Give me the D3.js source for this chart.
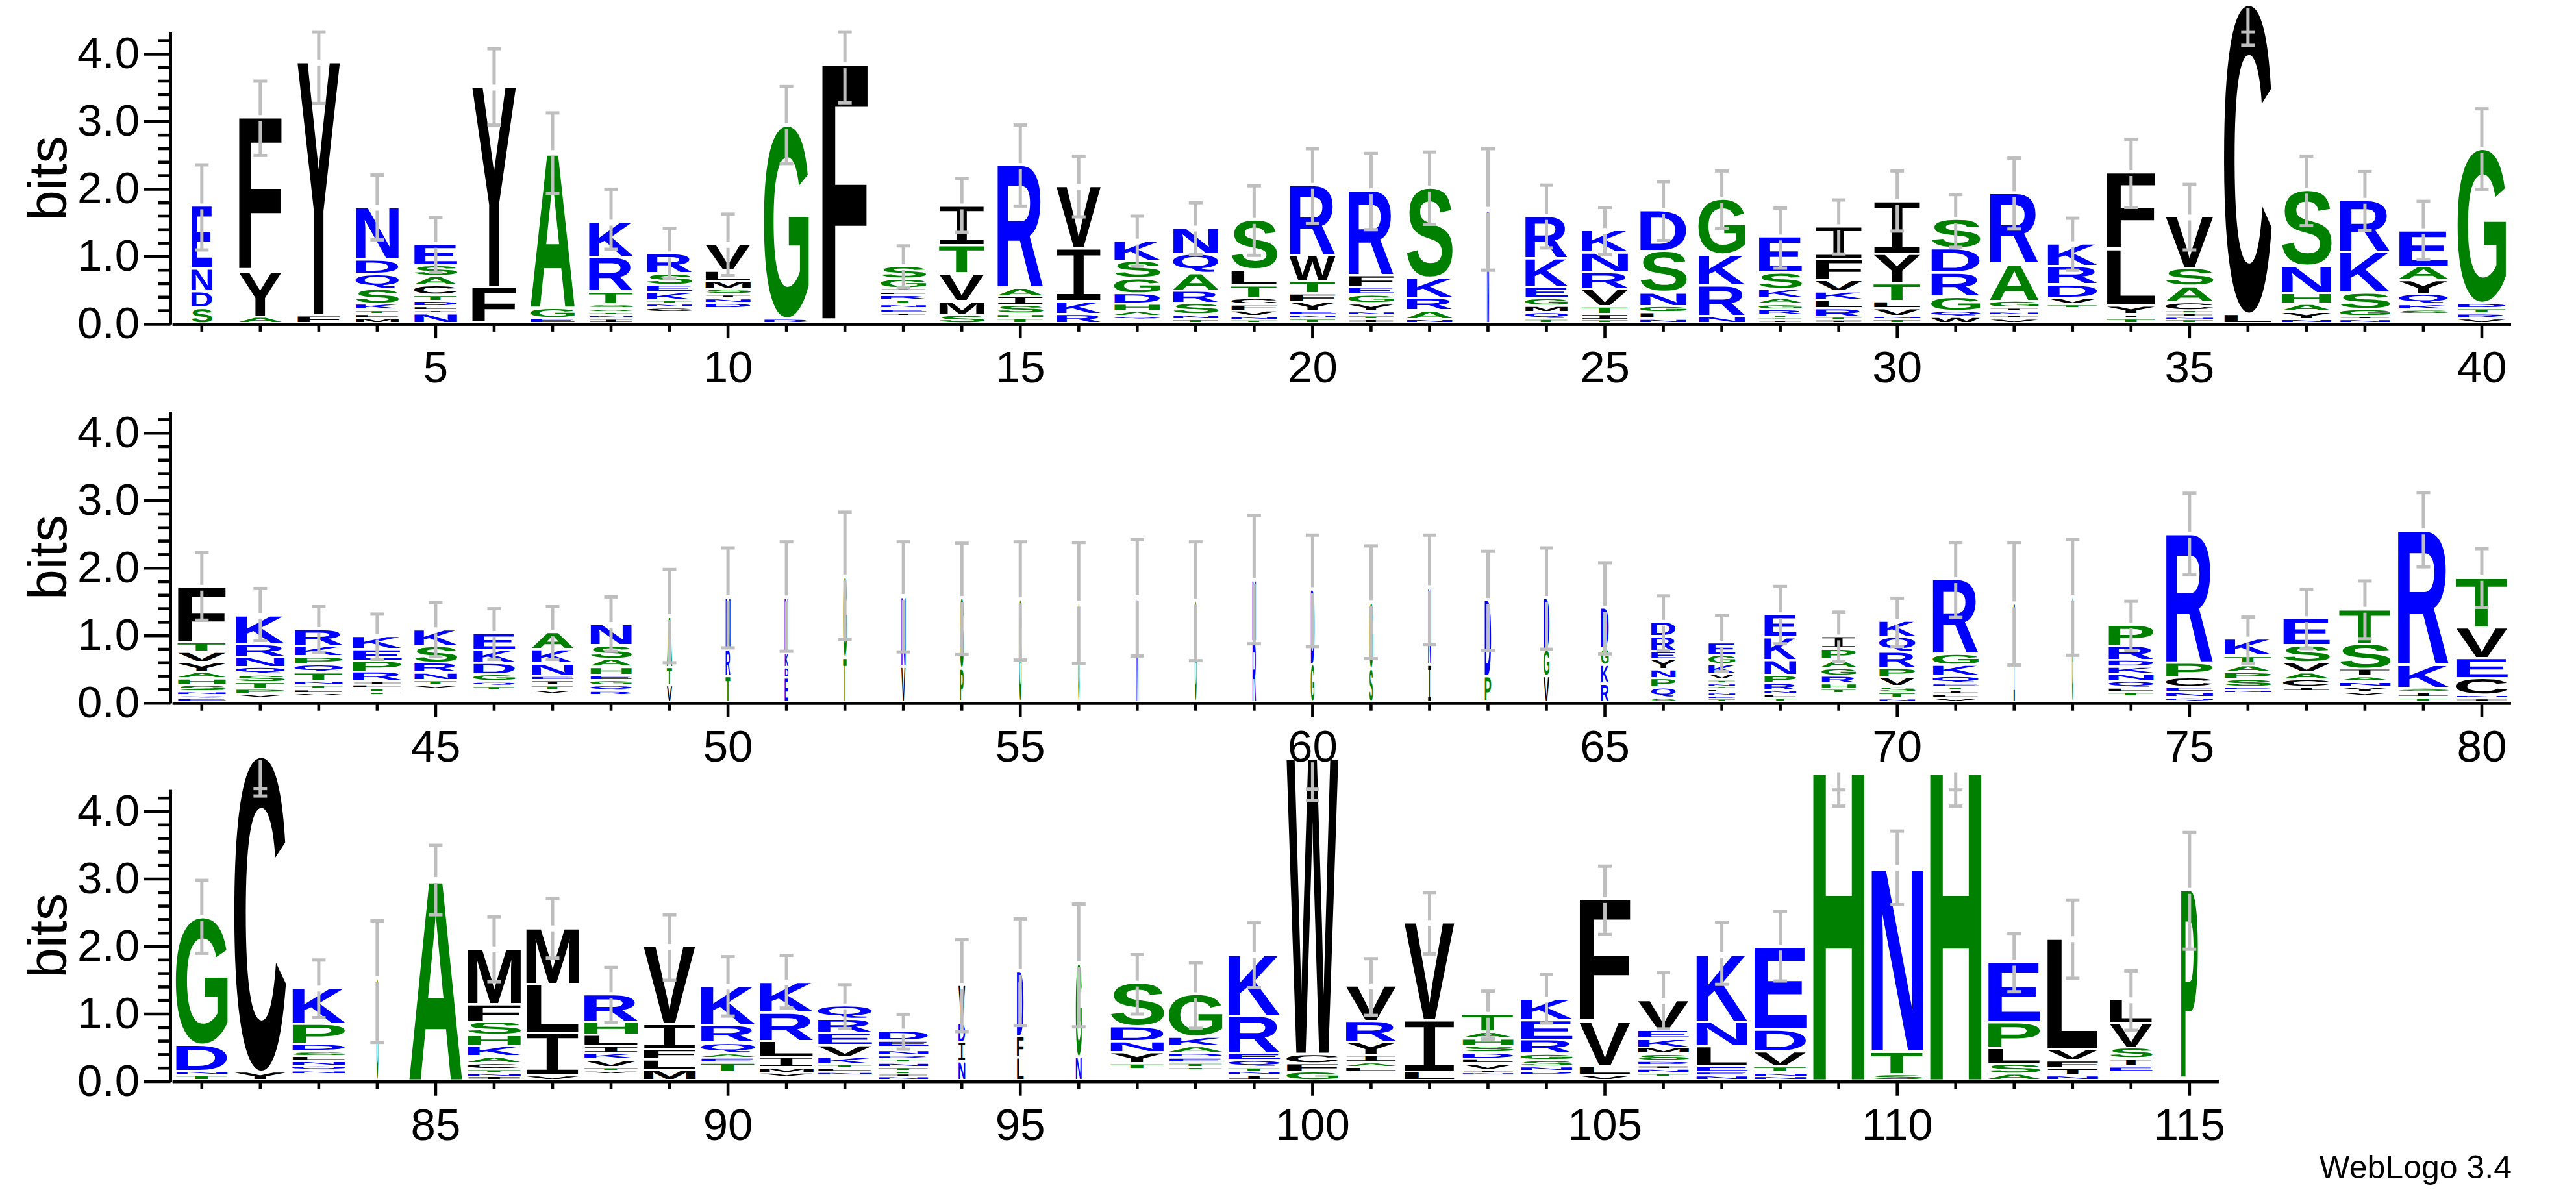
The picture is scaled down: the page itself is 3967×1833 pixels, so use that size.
<!DOCTYPE html>
<html><head><meta charset="utf-8">
<script src="https://cdnjs.cloudflare.com/ajax/libs/d3/7.8.5/d3.min.js"></script>
<style>html,body{margin:0;padding:0;background:#fff}svg{display:block}</style>
</head><body>
<svg id="c" width="3967" height="1833" xmlns="http://www.w3.org/2000/svg"></svg>
<script>
// Logo stacks, listed from the top of each stack to its bottom. A space is an empty (too small to draw) cell.
const stackLetters = [
"ENDS","FYA","YF","NDQSKTLM","ESACTDLIN","YF","AGE","KRTSATNI","RSEKTNC ","VLMSIND ",
"GR","F","SGILRTNEI ","ITVMS","RAISHT","VIKR","KSGDHAQ ","NQARSNT","SLTCFVNT","RWTFYENT",
"RFEGYNTI","SKRAN","N","RKEGMQT","KNRVTIT","DSNGLN","GKRN","ESKAGRTTI","IFVKLRTI","IYTLVNT",
"SDRGQW","RAGINIV","KRDVT ","FLYIT","VSACTINT","CL","SNHAYN","RKSGIN","EAYQKS ","GDTRV",
"FTVYAHSNQE","KRNQSTPV ","RKPQTNTLV ","KEPRILTT ","KSRNTV ","EKDGQT ","AKNEITV ","NSAHEGQR ","ATV","NRT",
"NKDE","GT","NV","SP","G","G","N","G","NR","DG",
"GS","NI","DP","DGV","DGKR","DREYNPQG","EGKVTNTLNET","EKNPRNLT","IPAGRHT ","KQRPVSTN",
"RGKQETILV","I","G","PRDKNQLT ","RPCENQ","KTAPSEN ","ESVACI ","TSIANYV ","RKSIT","TVECNI",
"GDNT","CY","KPDSLNQN ","G","A","MFSHKACTNI","MLIV","RHLIKVTV ","VIFLM","KRQAET ",
"KRLIMV ","QREVKTLN ","DETNRTNTTIN","VDIN","DFL","GN","SDNYT ","GKADETT ","KREQTNI","WCFG",
"VRYIAL ","VIL","TAHSDLVIN ","KERGSND ","FVLV","VEKMSDINT ","KNLEEN","EDVTNN","H","NTS",
"H","EPLSA","LVFIN","LVSIE ","P"
];
const stackBits = [
[.92,.34,.24,.21],[2.27,.67,.08],[3.74,.10],[.77,.21,.22,.22,.09,.06,.06,.06],[.30,.16,.14,.14,.09,.08,.06,.04,.13],[2.95,.52],[2.29,.15,.06],[.51,.51,.19,.06,.05,.05,.05,.05],[.28,.17,.11,.12,.05,.06,.07,.14],[.38,.15,.12,.08,.06,.07,.08,.20],
[2.85,.05],[3.80],[.17,.14,.05,.05,.07,.07,.06,.06,.05,.09],[.57,.42,.41,.20,.11],[1.80,.13,.13,.13,.06,.06],[.91,.78,.19,.12],[.285,.255,.224,.156,.106,.076,.057,.03],[.373,.289,.262,.182,.167,.068,.042],[.72,.236,.183,.095,.095,.084,.053,.03],[1.03,.38,.183,.122,.133,.06,.057,.05],
[1.24,.175,.118,.125,.118,.06,.057,.042],[1.32,.297,.186,.13,.042],[1.66],[.61,.426,.16,.114,.095,.103,.046],[.32,.29,.247,.255,.114,.087,.034],[.59,.61,.205,.095,.095,.046],[.81,.46,.452,.087],[.52,.243,.133,.087,.08,.08,.046,.034,.027],[.475,.308,.167,.122,.125,.133,.042,.03],[.77,.43,.266,.103,.114,.05,.042],
[.42,.357,.354,.21,.09,.076],[1.03,.55,.103,.057,.057,.046,.05],[.323,.27,.198,.1,.06,.2],[1.13,.837,.125,.06,.053],[.75,.262,.24,.118,.05,.05,.038,.038],[4.57,.12],[1.11,.407,.16,.114,.11,.042],[.75,.61,.243,.103,.05,.038],[.52,.2,.205,.156,.08,.068,.114],[2.27,.076,.076,.076,.053],
[.81,.14,.152,.148,.095,.095,.095,.057,.042,.042],[.42,.186,.152,.11,.114,.1,.076,.057,.045],[.23,.16,.12,.12,.125,.057,.065,.057,.05,.065],[.18,.17,.167,.14,.05,.053,.057,.05,.083],[.23,.25,.148,.114,.068,.05,.186],[.23,.2,.17,.1,.065,.06,.167],[.24,.21,.18,.065,.076,.068,.06,.106],[.30,.2,.12,.118,.076,.08,.083,.065,.083],[.74,.266,.235],[.76,.387,.376],
[.80,.217,.15,.35],[1.18,.65],[1.03,.51],[1.03,.48],[1.49],[1.44],[1.52],[1.47],[.90,.88],[1.09,.55],
[.97,.48],[1.13,.54],[1.116,.364],[.75,.39,.37],[.58,.247,.28,.258],[.2,.216,.125,.148,.133,.137,.152,.046],[.167,.137,.14,.09,.053,.042,.042,.05,.046,.046,.034],[.32,.34,.224,.114,.114,.053,.053,.05],[.165,.16,.125,.114,.114,.08,.068,.114],[.225,.224,.24,.133,.133,.095,.09,.034],
[1.09,.163,.163,.11,.046,.06,.053,.053,.05],[1.43],[1.53],[.3,.21,.103,.103,.106,.1,.065,.065,.065],[1.89,.224,.14,.076,.072,.057],[.24,.137,.106,.102,.114,.053,.042,.114],[.387,.25,.148,.106,.114,.065,.14],[.5,.376,.114,.076,.072,.076,.06,.076],[1.97,.345,.065,.076,.053],[.73,.455,.3,.247,.05,.038],
[1.878,.39,.06,.06],[4.66,.11],[.52,.30,.106,.07,.07,.073,.073,.057,.073],[1.48],[2.95],[.81,.26,.2,.16,.154,.1,.09,.057,.053,.04],[.82,.72,.64,.053],[.39,.2,.163,.1,.1,.11,.057,.053,.073],[1.14,.37,.158,.15,.142],[.57,.26,.154,.07,.073,.134,.11],
[.445,.42,.236,.154,.08,.065,.033],[.186,.207,.183,.17,.11,.053,.057,.053,.06],[.13,.094,.05,.08,.045,.06,.065,.06,.045,.04,.037],[.55,.285,.285,.264],[.95,.317,.32],[1.37,.333],[.63,.22,.163,.163,.085,.155],[.615,.142,.1,.065,.073,.065,.05,.134],[.9,.56,.1,.1,.065,.057,.06],[4.36,.138,.126,.114],
[.51,.31,.195,.106,.07,.07,.114],[1.44,.76,.114],[.25,.1,.106,.102,.09,.073,.09,.045,.045,.053],[.3,.29,.21,.094,.094,.07,.06,.06],[1.80,.66,.134,.06],[.43,.13,.13,.094,.1,.065,.057,.065,.053,.037],[.99,.36,.3,.08,.06,.053],[1.21,.325,.224,.09,.06,.04],[4.59],[2.72,.337,.073],
[4.59],[.88,.38,.236,.15,.08],[1.63,.163,.118,.11,.053],[.34,.36,.16,.118,.077,.114],[2.79]
];
// Share of a full position that each stack fills (the narrow ones are mostly gaps).
const stackWidths = [
.36,.74,.74,.74,.74,.76,.76,.76,.78,.78,.77,.79,.78,.78,.79,.77,.79,.78,.79,.79,.78,.79,.035,.73,.80,.80,.80,.74,.81,.81,.84,.84,.86,.84,.82,.82,.86,.86,.84,.83,
.83,.84,.83,.84,.74,.72,.72,.71,.09,.08,.06,.06,.07,.06,.04,.025,.03,.03,.06,.06,.06,.05,.11,.10,.13,.42,.46,.55,.59,.62,.79,.02,.02,.78,.81,.81,.80,.88,.88,.89,
.89,.89,.91,.03,.91,.92,.91,.93,.90,.93,.93,.93,.86,.115,.115,.10,.92,.92,.89,.89,.87,.87,.88,.89,.88,.88,.88,.90,.89,.89,.89,.90,.88,.73,.29
];
const errHigh = [
2.36,3.60,4.33,2.21,1.58,4.08,3.13,2.00,1.42,1.63,3.52,4.33,1.16,2.16,2.95,2.49,1.60,1.80,2.05,2.60,2.53,2.55,2.60,2.06,1.73,2.11,2.27,1.72,1.84,2.27,1.92,2.46,1.57,2.74,2.07,4.33,2.49,2.26,1.82,3.19,
2.23,1.70,1.43,1.32,1.49,1.40,1.43,1.575,1.98,2.30,2.39,2.83,2.39,2.37,2.39,2.38,2.42,2.39,2.78,2.49,2.33,2.49,2.25,2.30,2.08,1.59,1.305,1.73,1.35,1.556,2.38,2.38,2.425,1.51,3.11,1.275,1.69,1.81,3.12,2.29,
2.98,4.34,1.80,2.38,3.50,2.44,2.715,1.69,2.47,1.85,1.87,1.435,.996,2.10,2.41,2.63,1.88,1.76,2.35,4.33,1.82,2.80,1.34,1.59,3.19,1.61,2.36,2.52,4.32,3.71,4.32,2.195,2.69,1.64,3.69
];
const errLow = [
1.10,2.50,3.27,1.25,.77,2.95,1.94,1.11,.67,.72,2.38,3.28,.54,1.36,1.75,1.59,.86,1.03,1.02,1.49,1.40,1.48,.80,1.13,1.03,1.24,1.42,.83,1.04,1.38,1.14,1.41,.80,1.73,1.10,4.13,1.46,1.39,.96,2.00,
1.23,.93,.75,.65,.69,.65,.65,.77,.60,.82,.77,.94,.76,.72,.64,.59,.70,.63,.88,.84,.66,.87,.785,.80,.73,.78,.47,.88,.615,.84,1.27,.565,.71,.785,1.90,.59,.81,.956,2.02,1.42,
1.90,4.23,.947,.58,2.47,1.48,1.83,.88,1.50,.97,1.09,.785,.48,.74,.83,.81,1.0,.79,1.39,4.16,.98,1.89,.63,.866,2.18,.78,1.44,1.49,4.08,2.62,4.08,1.33,1.53,.76,1.96
];
const rowFirstPos = [1,41,81];
const rowLastPos = [40,80,115];
const rowZeroY = [499.4,1083.2,1666];
const yMajor = [0,1,2,3,4];
const yMinor = [.2,.4,.6,.8,1.2,1.4,1.6,1.8,2.2,2.4,2.6,2.8,3.2,3.4,3.6,3.8,4.2];
const creditText = "WebLogo 3.4";
const yLabel = "bits";

const green = new Set("AGHPST"), blue = new Set("DEKNQR");
const colorOf = c => green.has(c) ? "#008000" : blue.has(c) ? "#0000ff" : "#000000";

const pxPerPos = 90.03, pxPerBit = 104, leftX = 265.8, axisX = 262.6, lift = 3.6;
const svg = d3.select("#c");
svg.append("rect").attr("width",3967).attr("height",1833).attr("fill","#fff");

// Ink extents of every glyph, so that a letter can be stretched to exactly fill its cell.
const cv = document.createElement("canvas").getContext("2d");
const fontOf = c => c === "I" ? '"Liberation Mono"' : '"Liberation Sans"';
const weightOf = c => c === "I" ? "normal" : "bold";
const ink = {};
function inkOf(c){
  if(!ink[c]){
    cv.font = `${weightOf(c)} 100px ${fontOf(c)}`;
    const m = cv.measureText(c);
    ink[c] = {l:-m.actualBoundingBoxLeft, r:m.actualBoundingBoxRight, a:m.actualBoundingBoxAscent, d:m.actualBoundingBoxDescent};
  }
  return ink[c];
}

rowFirstPos.forEach((first,ri)=>{
  const last = rowLastPos[ri], y0 = rowZeroY[ri];
  const x = d3.scaleLinear().domain([first-.5,last+.5]).range([leftX, leftX+(last-first+1)*pxPerPos]);
  const y = d3.scaleLinear().domain([0,4.32]).range([y0, y0-4.32*pxPerBit]);
  const g = svg.append("g");

  // stacks
  const positions = d3.range(first,last+1);
  const cells = [];
  const tops = {};
  positions.forEach(p=>{
    const i = p-1, ls = stackLetters[i], hs = stackBits[i];
    const w = stackWidths[i]*pxPerPos;
    let acc = 0;
    const n = ls.length;
    for(let k=n-1;k>=0;k--){
      const h = hs[k]||0;
      cells.push({c:ls[k],p,w,b:acc,t:acc+h,isBottom:k===n-1,isTop:k===0});
      acc += h;
    }
    tops[p]=acc;
  });
  const ys = v => y(v)-lift;
  g.append("g").selectAll("text").data(cells.filter(d=>d.c!==" ")).join("text")
    .text(d=>d.c)
    .attr("font-family",d=>fontOf(d.c).replace(/"/g,"")).attr("font-weight",d=>weightOf(d.c))
    .attr("font-size",100).attr("fill",d=>colorOf(d.c))
    .style("text-rendering","geometricPrecision")
    .attr("transform",d=>{
      const cellH = ys(d.b)-ys(d.t);
      const pad = Math.min(1.7,cellH*.3);
      const yb = ys(d.b)-(d.isBottom?0:pad), yt = ys(d.t)+(d.isTop?0:pad);
      const m = inkOf(d.c);
      const sx = d.w/(m.r-m.l), sy = (yb-yt)/(m.a+m.d);
      const tx = x(d.p)-d.w/2-m.l*sx, ty = yb-m.d*sy;
      return `translate(${tx},${ty}) scale(${sx},${sy})`;
    });

  // error bars: two grey segments either side of the stack top, and two caps
  const gap = 4.5;
  const eb = g.append("g").attr("fill","none").attr("stroke","#bebebe").attr("stroke-width",5);
  positions.forEach(p=>{
    const i=p-1, cx=x(p), top=ys(tops[p]), hi=y(errHigh[i]), lo=y(errLow[i]);
    if(hi<top-gap) eb.append("line").attr("x1",cx).attr("x2",cx).attr("y1",hi).attr("y2",top-gap);
    if(lo>top+gap) eb.append("line").attr("x1",cx).attr("x2",cx).attr("y1",top+gap).attr("y2",lo);
    [hi,lo].forEach(v=>eb.append("line").attr("x1",cx-10.5).attr("x2",cx+10.5).attr("y1",v).attr("y2",v));
  });

  // axes
  const style = a => {
    a.selectAll("line,path").attr("stroke","#000").attr("stroke-width",4.6);
    a.selectAll("text").attr("font-family","Liberation Sans").attr("font-size",69).attr("fill","#000");
  };
  const isMajor = p => p%5===0;
  g.append("g").attr("transform",`translate(0,${y0})`)
    .call(d3.axisBottom(x).tickValues(positions.filter(p=>!isMajor(p))).tickSize(11.5).tickSizeOuter(0).tickFormat("").offset(0)).call(style);
  g.append("g").attr("transform",`translate(0,${y0})`)
    .call(d3.axisBottom(x).tickValues(positions.filter(isMajor)).tickSize(21.7).tickSizeOuter(0).tickPadding(19).tickFormat(d3.format("d")).offset(0)).call(style);
  g.append("g").attr("transform",`translate(${axisX},0)`)
    .call(d3.axisLeft(y).tickValues(yMinor).tickSize(19).tickSizeOuter(0).tickFormat("").offset(0)).call(style);
  g.append("g").attr("transform",`translate(${axisX},0)`)
    .call(d3.axisLeft(y).tickValues(yMajor).tickSize(41.6).tickSizeOuter(0).tickPadding(6).tickFormat(d3.format(".1f")).offset(0)).call(style);

  g.append("text").text(yLabel).attr("font-family","Liberation Sans").attr("font-size",84).attr("fill","#000")
    .attr("text-anchor","middle").attr("transform",`translate(102,${y(2.16)}) rotate(-90)`);
});

svg.append("text").text(creditText).attr("x",3868).attr("y",1815).attr("text-anchor","end")
  .attr("font-family","Liberation Sans").attr("font-size",50).attr("fill","#000");
</script>
</body></html>
